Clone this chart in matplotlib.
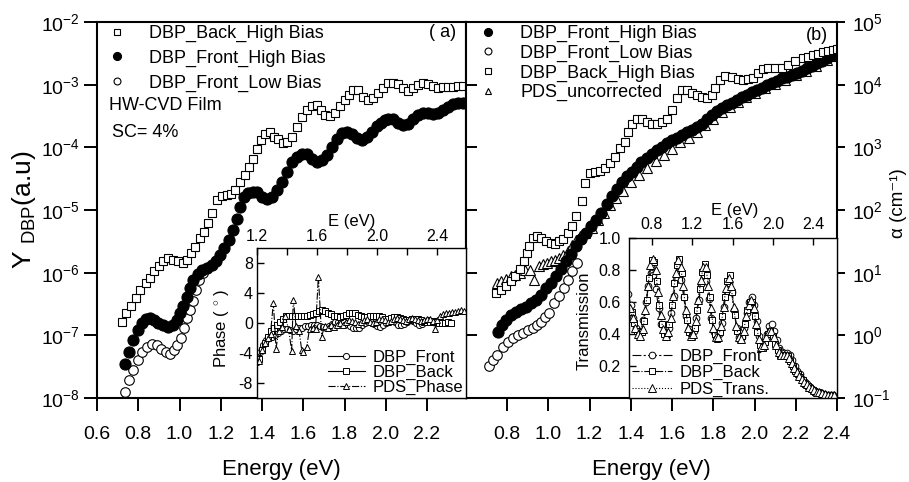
import numpy as np
import matplotlib
matplotlib.use("Agg")
import matplotlib.pyplot as plt
from matplotlib.lines import Line2D
from matplotlib.ticker import NullLocator, FixedLocator

plt.rcParams['font.family'] = ['Liberation Sans', 'DejaVu Sans']
plt.rcParams['mathtext.fontset'] = 'custom'
plt.rcParams['mathtext.rm'] = 'Liberation Sans'
plt.rcParams['mathtext.it'] = 'Liberation Sans:italic'
plt.rcParams['axes.unicode_minus'] = False

# ---------------- Panel (a): Y_DBP (log10 values) ----------------
a_back_E = [0.720, 0.741, 0.765, 0.787, 0.808, 0.836, 0.857, 0.876, 0.901, 0.922, 0.946, 0.967, 0.991,
            1.015, 1.035, 1.054, 1.077, 1.099, 1.119, 1.140, 1.159, 1.180, 1.204, 1.229, 1.250, 1.269,
            1.293, 1.318, 1.339, 1.358, 1.374, 1.394, 1.415, 1.439, 1.458, 1.479, 1.500, 1.520, 1.544,
            1.568, 1.592, 1.617, 1.641, 1.665, 1.684, 1.705, 1.730, 1.754, 1.778, 1.802, 1.823, 1.843,
            1.867, 1.891, 1.916, 1.940, 1.964, 1.988, 2.013, 2.037, 2.061, 2.085, 2.110, 2.134, 2.158,
            2.182, 2.206, 2.231, 2.255, 2.279, 2.303, 2.328, 2.352, 2.375]
a_back_logY = [-6.79, -6.65, -6.53, -6.40, -6.28, -6.16, -6.09, -5.97, -5.89, -5.81, -5.77, -5.79, -5.82,
               -5.85, -5.79, -5.69, -5.59, -5.45, -5.35, -5.21, -5.04, -4.84, -4.78, -4.76, -4.75, -4.68,
               -4.56, -4.44, -4.31, -4.18, -4.03, -3.88, -3.78, -3.75, -3.83, -3.87, -3.93, -3.91, -3.83,
               -3.67, -3.52, -3.40, -3.34, -3.32, -3.40, -3.48, -3.50, -3.46, -3.34, -3.24, -3.16, -3.09,
               -3.09, -3.19, -3.24, -3.22, -3.14, -3.05, -2.98, -2.98, -2.99, -3.06, -3.10, -3.06, -3.01,
               -2.98, -2.99, -3.02, -3.05, -3.04, -3.04, -3.03, -3.02, -3.02]

a_fhigh_E = [0.736, 0.755, 0.776, 0.797, 0.817, 0.836, 0.857, 0.876, 0.897, 0.922, 0.946, 0.967, 0.986,
             1.002, 1.019, 1.035, 1.051, 1.067, 1.088, 1.107, 1.132, 1.156, 1.177, 1.196, 1.217, 1.238,
             1.258, 1.277, 1.293, 1.313, 1.334, 1.358, 1.377, 1.402, 1.423, 1.447, 1.471, 1.495, 1.520,
             1.544, 1.568, 1.592, 1.617, 1.641, 1.665, 1.689, 1.714, 1.738, 1.762, 1.786, 1.810, 1.835,
             1.859, 1.883, 1.907, 1.932, 1.956, 1.975, 1.994, 2.013, 2.037, 2.061, 2.085, 2.110, 2.134,
             2.158, 2.182, 2.206, 2.231, 2.255, 2.279, 2.303, 2.328, 2.352, 2.375]
a_fhigh_logY = [-7.45, -7.26, -7.07, -6.91, -6.80, -6.74, -6.73, -6.76, -6.80, -6.84, -6.86, -6.84, -6.76,
                -6.65, -6.53, -6.39, -6.25, -6.12, -6.02, -5.96, -5.93, -5.88, -5.81, -5.72, -5.61, -5.48,
                -5.32, -5.15, -4.96, -4.79, -4.73, -4.71, -4.72, -4.79, -4.82, -4.79, -4.68, -4.55, -4.39,
                -4.24, -4.15, -4.10, -4.11, -4.18, -4.23, -4.21, -4.12, -3.99, -3.86, -3.77, -3.75, -3.78,
                -3.85, -3.88, -3.84, -3.75, -3.66, -3.61, -3.57, -3.54, -3.55, -3.61, -3.64, -3.62, -3.54,
                -3.48, -3.45, -3.46, -3.47, -3.45, -3.40, -3.35, -3.31, -3.30, -3.29]

a_flow_E = [0.737, 0.757, 0.776, 0.797, 0.820, 0.844, 0.868, 0.889, 0.910, 0.933, 0.954, 0.973, 0.989,
            1.006, 1.022, 1.038, 1.051, 1.064, 1.080, 1.096, 1.116]
a_flow_logY = [-7.90, -7.71, -7.55, -7.39, -7.27, -7.18, -7.14, -7.16, -7.22, -7.27, -7.29, -7.24, -7.15,
               -7.04, -6.89, -6.73, -6.60, -6.46, -6.28, -6.12, -6.01]

# ---------------- Panel (b): alpha (log10 values) ----------------
b_fhigh_E = [0.755, 0.775, 0.795, 0.820, 0.844, 0.868, 0.892, 0.917, 0.941, 0.965, 0.989, 1.013, 1.038,
             1.062, 1.086, 1.110, 1.135, 1.159, 1.183, 1.208, 1.232, 1.256, 1.283, 1.307, 1.331, 1.356,
             1.380, 1.404, 1.428, 1.452, 1.477, 1.501, 1.525, 1.549, 1.574, 1.598, 1.622, 1.646, 1.671,
             1.695, 1.719, 1.743, 1.768, 1.792, 1.816, 1.840, 1.865, 1.889, 1.913, 1.937, 1.962, 1.986,
             2.010, 2.034, 2.059, 2.083, 2.107, 2.131, 2.156, 2.180, 2.204, 2.228, 2.253, 2.277, 2.301,
             2.325, 2.350, 2.374, 2.398]
b_fhigh_logA = [0.06, 0.16, 0.25, 0.32, 0.38, 0.42, 0.46, 0.51, 0.57, 0.65, 0.75, 0.84, 0.94,
                1.06, 1.18, 1.30, 1.42, 1.53, 1.63, 1.74, 1.84, 1.95, 2.10, 2.23, 2.34, 2.45,
                2.54, 2.61, 2.69, 2.76, 2.83, 2.90, 2.95, 3.01, 3.07, 3.11, 3.15, 3.19, 3.24,
                3.28, 3.33, 3.38, 3.45, 3.52, 3.58, 3.63, 3.67, 3.71, 3.75, 3.80, 3.84, 3.88,
                3.92, 3.95, 3.99, 4.02, 4.06, 4.10, 4.12, 4.16, 4.19, 4.22, 4.26, 4.30, 4.34,
                4.38, 4.43, 4.47, 4.51]

b_flow_E = [0.714, 0.734, 0.753, 0.779, 0.803, 0.828, 0.852, 0.876, 0.900, 0.925, 0.945, 0.965, 0.985,
            1.005, 1.029, 1.054, 1.078, 1.094, 1.117, 1.138]
b_flow_logA = [-0.49, -0.39, -0.31, -0.18, -0.11, -0.04, 0.00, 0.04, 0.08, 0.12, 0.17, 0.22, 0.29,
               0.36, 0.52, 0.62, 0.75, 0.89, 1.02, 1.16]

b_back_E = [0.747, 0.771, 0.795, 0.818, 0.839, 0.863, 0.882, 0.898, 0.908, 0.924, 0.944, 0.965, 0.989,
            1.012, 1.033, 1.054, 1.073, 1.094, 1.114, 1.135, 1.162, 1.178, 1.202, 1.227, 1.251, 1.275,
            1.299, 1.324, 1.348, 1.372, 1.388, 1.404, 1.429, 1.453, 1.477, 1.501, 1.526, 1.550, 1.574,
            1.598, 1.623, 1.647, 1.671, 1.695, 1.720, 1.744, 1.768, 1.793, 1.808, 1.833, 1.857, 1.889,
            1.921, 1.946, 1.970, 1.994, 2.019, 2.043, 2.067, 2.099, 2.132, 2.164, 2.196, 2.237, 2.261,
            2.285, 2.310, 2.334, 2.358, 2.382, 2.398]
b_back_logA = [0.67, 0.72, 0.78, 0.86, 0.95, 1.06, 1.18, 1.31, 1.43, 1.55, 1.58, 1.55, 1.51,
               1.47, 1.45, 1.50, 1.54, 1.63, 1.74, 1.90, 2.14, 2.43, 2.59, 2.61, 2.63, 2.67,
               2.75, 2.85, 2.99, 3.09, 3.24, 3.38, 3.46, 3.46, 3.41, 3.37, 3.37, 3.40, 3.46,
               3.60, 3.78, 3.91, 3.92, 3.87, 3.83, 3.80, 3.79, 3.84, 3.94, 4.08, 4.14, 4.12,
               4.09, 4.08, 4.09, 4.11, 4.18, 4.25, 4.26, 4.26, 4.27, 4.31, 4.37, 4.42, 4.44,
               4.47, 4.49, 4.52, 4.54, 4.56, 4.57]

b_pds_E = [0.750, 0.771, 0.795, 0.818, 0.840, 0.863, 0.887, 0.910, 0.932, 0.954, 0.973, 0.992, 1.013,
           1.033, 1.052, 1.073, 1.094, 1.114, 1.135, 1.155, 1.180, 1.210, 1.240, 1.270, 1.300, 1.330,
           1.360, 1.400, 1.440, 1.480, 1.520, 1.560, 1.600, 1.640, 1.680, 1.720, 1.760, 1.800, 1.840,
           1.880, 1.920, 1.960, 2.000, 2.050, 2.100, 2.150, 2.200, 2.250, 2.300, 2.350, 2.390]
b_pds_logA = [0.83, 0.86, 0.90, 0.94, 0.97, 1.00, 1.04, 1.05, 0.88, 1.10, 1.14, 1.16, 1.18,
              1.20, 1.24, 1.28, 1.35, 1.44, 1.52, 1.58, 1.64, 1.72, 1.84, 1.96, 2.08, 2.19,
              2.30, 2.44, 2.56, 2.67, 2.78, 2.88, 2.98, 3.08, 3.15, 3.24, 3.35, 3.46, 3.56,
              3.64, 3.72, 3.80, 3.87, 3.94, 4.01, 4.08, 4.15, 4.22, 4.30, 4.39, 4.46]

# ---------------- Inset (a): phase ----------------
ph_front_E = [1.20, 1.22, 1.24, 1.26, 1.28, 1.30, 1.32, 1.34, 1.36, 1.38, 1.40, 1.42, 1.44, 1.46, 1.48,
              1.50, 1.52, 1.54, 1.56, 1.58, 1.60, 1.62, 1.64, 1.66, 1.68, 1.70, 1.72, 1.74, 1.76, 1.78,
              1.80, 1.82, 1.84, 1.86, 1.88, 1.90, 1.92, 1.94, 1.96, 1.98, 2.00, 2.02, 2.04, 2.06, 2.08,
              2.10, 2.12, 2.14, 2.16, 2.18, 2.20, 2.22, 2.24, 2.26, 2.28, 2.30, 2.32, 2.34, 2.36, 2.38,
              2.40, 2.42]
ph_front = [-5.2, -3.9, -2.9, -2.3, -2.0, -1.8, -1.6, -1.3, -1.0, -0.8, -0.8, -0.9, -1.0, -0.8, -0.6,
            -0.6, -0.4, -0.4, -0.3, -0.3, -0.3, -0.4, -0.5, -0.6, -0.4, -0.1, 0.1, 0.2, 0.3, 0.2,
            -0.1, -0.4, -0.6, -0.7, -0.6, -0.3, 0.0, 0.2, 0.2, -0.1, -0.4, -0.5, -0.3, 0.0, 0.3,
            0.3, 0.1, -0.2, -0.3, -0.1, 0.2, 0.4, 0.3, 0.0, -0.2, -0.1, 0.2, 0.4, 0.3, 0.1,
            0.2, 0.4]

ph_back_E = [1.21, 1.23, 1.25, 1.27, 1.29, 1.31, 1.33, 1.35, 1.37, 1.39, 1.41, 1.43, 1.45, 1.47, 1.49,
             1.51, 1.53, 1.55, 1.57, 1.59, 1.61, 1.63, 1.65, 1.67, 1.69, 1.71, 1.73, 1.75, 1.77, 1.79,
             1.81, 1.83, 1.85, 1.87, 1.89, 1.91, 1.93, 1.95, 1.97, 1.99, 2.01, 2.03, 2.05, 2.07, 2.09,
             2.11, 2.13, 2.15, 2.17, 2.19, 2.21, 2.23, 2.25, 2.27, 2.29, 2.31, 2.33, 2.35, 2.37, 2.39,
             2.41, 2.43, 2.45, 2.47, 2.49]
ph_back = [-4.8, -3.6, -2.6, -1.8, -1.1, -0.6, -0.3, 0.1, 0.5, 0.9, 1.0, 1.0, 1.0, 1.0, 0.9,
           1.0, 1.0, 1.1, 1.2, 1.4, 1.6, 1.7, 1.6, 1.4, 1.2, 1.0, 0.9, 0.8, 0.9, 1.1,
           1.3, 1.4, 1.3, 1.1, 0.9, 0.8, 0.8, 0.9, 1.0, 1.0, 0.9, 0.8, 0.6, 0.6, 0.7,
           0.8, 0.8, 0.7, 0.5, 0.4, 0.4, 0.5, 0.6, 0.5, 0.4, 0.2, 0.1, 0.2, 0.3, 0.2,
           0.0, 0.0, 0.0, 0.1, 0.0]

ph_pds_E = [1.21, 1.235, 1.255, 1.272, 1.29, 1.309, 1.327, 1.345, 1.365, 1.387, 1.41, 1.431, 1.442,
            1.46, 1.48, 1.498, 1.509, 1.531, 1.55, 1.57, 1.59, 1.609, 1.631, 1.65, 1.67, 1.69, 1.71,
            1.73, 1.75, 1.77, 1.79, 1.81, 1.83, 1.85, 1.87, 1.89, 1.91, 1.93, 1.95, 1.97, 1.99, 2.01,
            2.03, 2.05, 2.07, 2.09, 2.11, 2.13, 2.15, 2.17, 2.19, 2.21, 2.23, 2.25, 2.27, 2.29, 2.31,
            2.33, 2.35, 2.37, 2.387, 2.40, 2.42, 2.44, 2.46, 2.48, 2.50, 2.52, 2.54, 2.56, 2.58]
ph_pds = [-5.0, -3.6, -2.7, -2.0, -1.4, 2.7, -3.4, -1.0, -0.5, 1.0, -0.8, -3.7, 3.1,
          -0.4, -1.0, -3.6, -3.8, -3.2, -0.8, -0.6, -0.8, 6.2, -1.8, -0.4, -0.6, -0.2, -0.5,
          -0.3, 0.0, -0.2, 0.2, 0.4, 0.3, 0.1, -0.1, 0.2, 0.4, 0.5, 0.2, 0.0, 0.2, 0.5,
          0.6, 0.4, 0.2, 0.3, 0.5, 0.7, 0.6, 0.4, 0.3, 0.5, 0.7, 0.6, 0.4, 0.3, 0.4,
          0.6, 0.5, 0.3, -0.8, 0.4, 1.0, 1.2, 1.3, 1.3, 1.5, 1.5, 1.6, 1.7, 1.6]

# ---------------- Inset (b): transmission ----------------
tr_front_E = [0.565, 0.59, 0.615, 0.64, 0.665, 0.69, 0.715, 0.74, 0.765, 0.79, 0.815, 0.84, 0.865, 0.89,
              0.915, 0.94, 0.965, 0.99, 1.015, 1.04, 1.065, 1.09, 1.115, 1.14, 1.165, 1.19, 1.215, 1.24,
              1.265, 1.29, 1.315, 1.34, 1.365, 1.39, 1.415, 1.44, 1.465, 1.49, 1.515, 1.54, 1.565, 1.59,
              1.615, 1.64, 1.665, 1.69, 1.715, 1.74, 1.765, 1.79, 1.815, 1.84, 1.865, 1.89, 1.915, 1.94,
              1.965, 1.99, 2.015, 2.04, 2.065, 2.09, 2.115, 2.14, 2.165, 2.19, 2.215, 2.24, 2.265, 2.29,
              2.315, 2.34, 2.365, 2.39, 2.415, 2.44, 2.47, 2.50, 2.53, 2.56, 2.60]
tr_front = [0.65, 0.58, 0.50, 0.44, 0.41, 0.42, 0.49, 0.60, 0.70, 0.78, 0.77, 0.68, 0.56, 0.46,
            0.41, 0.40, 0.44, 0.53, 0.64, 0.74, 0.79, 0.74, 0.63, 0.51, 0.43, 0.40, 0.42, 0.50,
            0.61, 0.71, 0.77, 0.73, 0.62, 0.50, 0.41, 0.38, 0.40, 0.47, 0.57, 0.67, 0.72, 0.66,
            0.55, 0.44, 0.38, 0.38, 0.44, 0.53, 0.60, 0.63, 0.58, 0.48, 0.39, 0.34, 0.35, 0.40,
            0.45, 0.46, 0.42, 0.36, 0.31, 0.29, 0.28, 0.28, 0.27, 0.24, 0.20, 0.17, 0.15, 0.12,
            0.10, 0.085, 0.07, 0.055, 0.045, 0.04, 0.03, 0.025, 0.02, 0.02, 0.02]

tr_back_E = [0.597, 0.622, 0.647, 0.672, 0.697, 0.722, 0.747, 0.772, 0.797, 0.822, 0.847, 0.872, 0.897,
             0.922, 0.947, 0.972, 0.997, 1.022, 1.047, 1.072, 1.097, 1.122, 1.147, 1.172, 1.197, 1.222,
             1.247, 1.272, 1.297, 1.322, 1.347, 1.372, 1.397, 1.422, 1.447, 1.472, 1.497, 1.522, 1.547,
             1.572, 1.597, 1.622, 1.647, 1.672, 1.697, 1.722, 1.747, 1.772, 1.797, 1.822, 1.847, 1.872,
             1.897, 1.922, 1.947, 1.972, 1.997, 2.022, 2.047, 2.072, 2.097, 2.122, 2.147, 2.172, 2.197,
             2.222, 2.247, 2.272, 2.297, 2.322, 2.347, 2.372, 2.397, 2.422, 2.447, 2.472, 2.50, 2.53,
             2.56, 2.59]
tr_back = [0.54, 0.47, 0.42, 0.40, 0.41, 0.48, 0.61, 0.75, 0.86, 0.85, 0.73, 0.58, 0.46,
           0.40, 0.40, 0.46, 0.58, 0.72, 0.83, 0.87, 0.78, 0.63, 0.49, 0.41, 0.39, 0.44,
           0.55, 0.68, 0.79, 0.84, 0.77, 0.63, 0.49, 0.40, 0.37, 0.41, 0.51, 0.63, 0.73,
           0.77, 0.66, 0.52, 0.42, 0.37, 0.39, 0.46, 0.55, 0.60, 0.60, 0.51, 0.41, 0.33,
           0.31, 0.35, 0.40, 0.42, 0.39, 0.34, 0.30, 0.27, 0.27, 0.26, 0.26, 0.23, 0.20,
           0.17, 0.15, 0.13, 0.11, 0.09, 0.075, 0.06, 0.05, 0.04, 0.035, 0.03, 0.025, 0.02,
           0.02, 0.02]

tr_pds_E = [0.58, 0.61, 0.635, 0.66, 0.685, 0.71, 0.735, 0.76, 0.785, 0.81, 0.835, 0.86, 0.885, 0.91,
            0.935, 0.96, 0.985, 1.01, 1.035, 1.06, 1.085, 1.11, 1.135, 1.16, 1.185, 1.21, 1.235, 1.26,
            1.285, 1.31, 1.335, 1.36, 1.385, 1.41, 1.435, 1.46, 1.485, 1.51, 1.535, 1.56, 1.585, 1.61,
            1.635, 1.66, 1.685, 1.71, 1.735, 1.76, 1.785, 1.81, 1.835, 1.86, 1.885, 1.91, 1.935, 1.96,
            1.985, 2.01, 2.035, 2.06, 2.085, 2.11, 2.135, 2.16, 2.185, 2.21, 2.235, 2.26, 2.285, 2.31,
            2.335, 2.36, 2.385, 2.41, 2.435, 2.46, 2.49, 2.52, 2.55, 2.58, 2.61]
tr_pds = [0.56, 0.50, 0.44, 0.40, 0.39, 0.43, 0.55, 0.70, 0.83, 0.87, 0.80, 0.66, 0.52, 0.43,
          0.39, 0.41, 0.50, 0.64, 0.78, 0.86, 0.82, 0.70, 0.55, 0.44, 0.39, 0.40, 0.48, 0.61,
          0.74, 0.82, 0.82, 0.70, 0.56, 0.44, 0.38, 0.38, 0.45, 0.57, 0.69, 0.75, 0.70, 0.57,
          0.45, 0.38, 0.37, 0.42, 0.51, 0.58, 0.61, 0.56, 0.46, 0.37, 0.32, 0.33, 0.38, 0.42,
          0.42, 0.38, 0.33, 0.29, 0.27, 0.27, 0.27, 0.25, 0.22, 0.19, 0.16, 0.14, 0.12, 0.10,
          0.085, 0.07, 0.06, 0.05, 0.04, 0.035, 0.03, 0.025, 0.02, 0.02, 0.02]

left_yticks = [-8, -7, -6, -5, -4, -3, -2]
right_yticks = [-1, 0, 1, 2, 3, 4, 5]
left_xticks = [0.6, 0.8, 1.0, 1.2, 1.4, 1.6, 1.8, 2.0, 2.2]
right_xticks = [0.8, 1.0, 1.2, 1.4, 1.6, 1.8, 2.0, 2.2, 2.4]

# ---------------- Figure ----------------
W, H = 909, 482
fig = plt.figure(figsize=(W / 100, H / 100), dpi=100)


def rect(x0, y0, x1, y1):
    return [x0 / W, 1 - y1 / H, (x1 - x0) / W, (y1 - y0) / H]


axL = fig.add_axes(rect(97, 22, 466, 398))
axR = fig.add_axes(rect(466, 22, 837, 398))
axO = fig.add_axes(rect(466, 22, 837, 398))
insL = fig.add_axes(rect(257, 248, 466, 398))
insR = fig.add_axes(rect(629, 238, 837, 398))

MS = 6.3
sq = dict(marker='s', ls='none', ms=MS, mfc='white', mec='black', mew=0.8)
fc = dict(marker='o', ls='none', ms=MS + 1.7, mfc='black', mec='black', mew=0.8)
oc = dict(marker='o', ls='none', ms=MS + 0.6, mfc='white', mec='black', mew=0.8)
tri = dict(marker='^', ls='none', ms=MS + 0.2, mfc='white', mec='black', mew=0.8)

LFS = 13

# ---- panel (a)
axL.plot(a_flow_E, 10.0 ** np.array(a_flow_logY), **oc)
axL.plot(a_fhigh_E, 10.0 ** np.array(a_fhigh_logY), **fc)
axL.plot(a_back_E, 10.0 ** np.array(a_back_logY), **sq)
axL.set_yscale('log')
axL.set_xlim(0.6, 2.389)
axL.set_ylim(1e-8, 1e-2)
axL.set_yticks([10.0 ** k for k in left_yticks])
axL.set_yticklabels([r'$\mathregular{10^{%d}}$' % k for k in left_yticks])
axL.yaxis.set_minor_locator(NullLocator())
axL.set_xticks(left_xticks)
axL.set_xticklabels(['%.1f' % v for v in left_xticks])
axL.tick_params(axis='x', direction='out', length=9.5, width=1.4, pad=11, labelsize=14, top=False)
axL.tick_params(axis='y', direction='out', length=9.5, width=1.4, pad=3, labelsize=14, right=False)
for s in axL.spines.values():
    s.set_linewidth(1.5)
axL.set_xlabel('Energy (eV)', fontsize=16)
axL.xaxis.set_label_coords(0.5, -0.162)
axL.set_ylabel(r'Y $_{\mathregular{DBP}}$(a.u)', fontsize=19)
axL.yaxis.set_label_coords(-0.160, 0.5)

hL = [Line2D([], [], **sq), Line2D([], [], **fc), Line2D([], [], **oc)]
axL.legend(hL, ['DBP_Back_High Bias', 'DBP_Front_High Bias', 'DBP_Front_Low Bias'],
           loc='upper left', bbox_to_anchor=(0.027, 0.992), frameon=False, fontsize=LFS,
           handlelength=1.1, handletextpad=1.25, labelspacing=0.42, borderpad=0,
           borderaxespad=0, numpoints=1, markerscale=0.72)
axL.text(0.0317, 0.777, 'HW-CVD Film', transform=axL.transAxes, fontsize=LFS, va='center', ha='left')
axL.text(0.0407, 0.705, 'SC= 4%', transform=axL.transAxes, fontsize=LFS, va='center', ha='left')
axL.text(0.972, 0.971, '( a)', transform=axL.transAxes, fontsize=LFS, va='center', ha='right')

# ---- panel (b)
axR.plot(b_pds_E, 10.0 ** np.array(b_pds_logA), **tri)
axR.plot(b_flow_E, 10.0 ** np.array(b_flow_logA), **oc)
axR.plot(b_fhigh_E, 10.0 ** np.array(b_fhigh_logA), **fc)
axR.plot(b_back_E, 10.0 ** np.array(b_back_logA), **sq)
axR.set_yscale('log')
axR.set_xlim(0.601, 2.4)
axR.set_ylim(1e-1, 1e5)
axR.yaxis.tick_right()
axR.set_yticks([10.0 ** k for k in right_yticks])
axR.set_yticklabels([r'$\mathregular{10^{%d}}$' % k for k in right_yticks])
axR.yaxis.set_minor_locator(NullLocator())
axR.set_xticks(right_xticks)
axR.set_xticklabels(['%.1f' % v for v in right_xticks])
axR.tick_params(axis='x', direction='out', length=9.5, width=1.4, pad=11, labelsize=14, top=False)
axR.tick_params(axis='y', direction='out', length=6, width=1.4, pad=5, labelsize=14, left=False)
for s in axR.spines.values():
    s.set_linewidth(1.5)
axR.set_xlabel('Energy (eV)', fontsize=16)
axR.xaxis.set_label_coords(0.5, -0.162)
# right-hand axis title, right-aligned to stay inside the canvas
fig.text(907 / W, 1 - 203 / H, 'α (cm⁻¹)', fontsize=13.5,
         rotation=90, ha='right', va='center')

hR = [Line2D([], [], **fc), Line2D([], [], **oc), Line2D([], [], **sq), Line2D([], [], **tri)]
axR.legend(hR, ['DBP_Front_High Bias', 'DBP_Front_Low Bias', 'DBP_Back_High Bias', 'PDS_uncorrected'],
           loc='upper left', bbox_to_anchor=(0.032, 0.992), frameon=False, fontsize=LFS,
           handlelength=1.1, handletextpad=1.25, labelspacing=0.14, borderpad=0,
           borderaxespad=0, numpoints=1, markerscale=0.72)
axR.text(0.976, 0.965, '(b)', transform=axR.transAxes, fontsize=LFS, va='center', ha='right')

# inward ticks on left side of panel (b)
axO.set_yscale('log')
axO.set_ylim(1e-1, 1e5)
axO.set_yticks([10.0 ** k for k in right_yticks])
axO.yaxis.set_minor_locator(NullLocator())
axO.tick_params(axis='y', direction='in', length=8, width=1.4, labelleft=False, right=False)
axO.set_xticks([])
axO.patch.set_visible(False)
for s in axO.spines.values():
    s.set_visible(False)

# ---- inset (a): phase
ims = 4.4
insL.plot(ph_front_E, ph_front, ls='-', lw=0.8, color='black', marker='o', ms=ims, mfc='white', mec='black', mew=0.7)
insL.plot(ph_back_E, ph_back, ls='-', lw=0.8, color='black', marker='s', ms=ims, mfc='white', mec='black', mew=0.7)
insL.plot(ph_pds_E, ph_pds, ls='-.', lw=0.8, color='black', marker='^', ms=ims + 0.6, mfc='white', mec='black', mew=0.7)
insL.set_xlim(1.2, 2.593)
insL.set_ylim(-10, 10)
insL.xaxis.tick_top()
insL.xaxis.set_label_position('top')
insL.set_xticks([1.2, 1.6, 2.0, 2.4])
insL.set_xticklabels(['1.2', '1.6', '2.0', '2.4'])
insL.xaxis.set_minor_locator(FixedLocator([1.4, 1.8, 2.2]))
insL.set_yticks([-8, -4, 0, 4, 8])
insL.set_yticklabels(['-8', '-4', '0', '4', '8'])
insL.tick_params(axis='both', which='both', direction='in', width=1.0, labelsize=11.5)
insL.tick_params(axis='both', which='major', length=5, pad=3)
insL.tick_params(axis='x', which='minor', length=5)
for s in insL.spines.values():
    s.set_linewidth(1.0)
insL.set_xlabel('E (eV)', fontsize=12)
insL.xaxis.set_label_coords(0.455, 1.147)
insL.set_ylabel('Phase ( $^{\\circ}$ )', fontsize=12)
insL.yaxis.set_label_coords(-0.124, 0.467)
insL.legend(['DBP_Front', 'DBP_Back', 'PDS_Phase'], loc='lower left', bbox_to_anchor=(0.34, 0.02),
            frameon=False, fontsize=12, handlelength=2.2, handletextpad=0.45, labelspacing=0.0,
            borderpad=0, borderaxespad=0, numpoints=1)

# ---- inset (b): transmission
insR.plot(tr_front_E, tr_front, ls=(0, (8, 2, 2, 2)), lw=0.8, color='black', marker='o', ms=ims + 0.4, mfc='white', mec='black', mew=0.7)
insR.plot(tr_back_E, tr_back, ls='-.', lw=0.8, color='black', marker='s', ms=ims + 0.4, mfc='white', mec='black', mew=0.7)
insR.plot(tr_pds_E, tr_pds, ls=':', lw=0.8, color='black', marker='^', ms=ims + 0.8, mfc='white', mec='black', mew=0.7)
insR.set_xlim(0.572, 2.636)
insR.set_ylim(0.0, 1.0)
insR.xaxis.tick_top()
insR.xaxis.set_label_position('top')
insR.set_xticks([0.8, 1.2, 1.6, 2.0, 2.4])
insR.set_xticklabels(['0.8', '1.2', '1.6', '2.0', '2.4'])
insR.set_yticks([0.2, 0.4, 0.6, 0.8, 1.0])
insR.set_yticklabels(['0.2', '0.4', '0.6', '0.8', '1.0'])
insR.tick_params(axis='both', direction='in', length=5, width=1.0, labelsize=11.5, pad=4)
insR.tick_params(axis='y', pad=6)
for s in insR.spines.values():
    s.set_linewidth(1.0)
insR.set_xlabel('E (eV)', fontsize=12)
insR.xaxis.set_label_coords(0.51, 1.144)
insR.set_ylabel('Transmission', fontsize=12)
insR.yaxis.set_label_coords(-0.178, 0.48)
insR.legend(['DBP_Front', 'DBP_Back', 'PDS_Trans.'], loc='lower left', bbox_to_anchor=(0.015, 0.005),
            frameon=False, fontsize=12, handlelength=2.4, handletextpad=0.45, labelspacing=0.1,
            borderpad=0, borderaxespad=0, numpoints=1)

fig.savefig('out.png', dpi=100)
